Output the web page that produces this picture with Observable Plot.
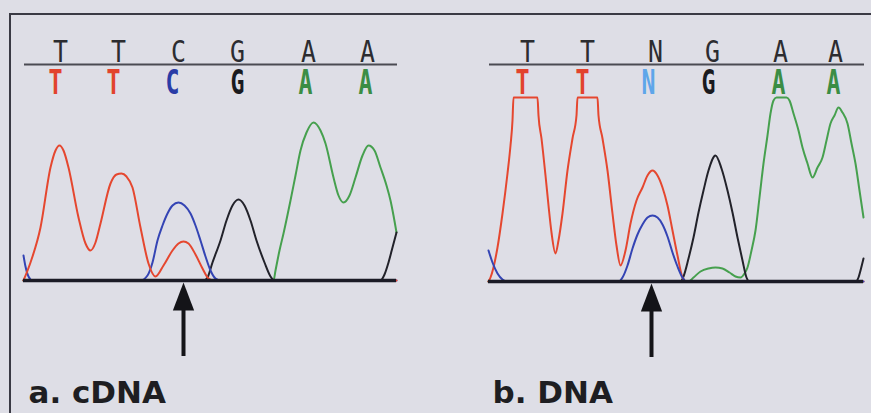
<!DOCTYPE html>
<html><head><meta charset="utf-8">
<script src="https://cdn.jsdelivr.net/npm/d3@7"></script>
<script src="https://cdn.jsdelivr.net/npm/@observablehq/plot@0.6"></script>
<style>
html,body{margin:0;padding:0;background:#dedee6;}
#wrap{position:relative;width:871px;height:413px;overflow:hidden;background:#dedee6;}
#frame{position:absolute;left:9px;top:13px;width:900px;height:450px;border-top:2px solid #3a3a44;border-left:2px solid #3a3a44;}
#wrap svg{position:absolute;left:0;top:0;}
</style></head><body><div id="wrap"><div id="frame"></div></div>
<script>
// ---------- data (scan position, signal) ----------
const panelLabels = ["a. cDNA", "b. DNA"];

const cdnaHeaderBases = ["T","T","C","G","A","A"];
const cdnaHeaderScan  = [37, 95, 155, 214, 285, 344];
const cdnaCalls       = ["T","T","C","G","A","A"];
const cdnaCallScan    = [32, 90, 149, 214, 282, 342];
const cdnaMutationScan = 160;

const dnaHeaderBases = ["T","T","N","G","A","A"];
const dnaHeaderScan  = [39, 99, 167, 224, 292, 347];
const dnaCalls       = ["T","T","N","G","A","A"];
const dnaCallScan    = [34, 94, 160, 220, 290, 345];
const dnaMutationScan = 163;

const cdnaTraceT = [[0,0],[7,18],[17,53],[27,113],[32,130],[36,135],[40,130],[45,113],[55,63],[62,37],[67,30],[72,38],[77,57],[87,97],[93,106],[98,107],[103,104],[109,93],[117,53],[125,17],[132,4],[140,15],[149,30],[155,37],[160,39],[165,37],[172,26],[179,12],[185,2],[190,0],[373,0]];
const cdnaTraceC = [[0,25],[2,14],[5,4],[9,0],[117,0],[124,5],[129,18],[134,40],[139,55],[144,67],[149,75],[155,78],[161,75],[167,67],[172,55],[177,40],[182,24],[187,10],[192,2],[197,0],[373,0]];
const cdnaTraceG = [[0,0],[180,0],[184,3],[189,18],[197,40],[203,60],[209,75],[215,81],[221,75],[227,60],[233,40],[241,18],[247,4],[251,0],[357,0],[361,6],[365,18],[369,33],[373,48]];
const cdnaTraceA = [[0,0],[250,0],[252,10],[256,30],[260,47],[267,80],[272,105],[277,130],[283,148],[290,158],[297,150],[302,137],[310,103],[315,85],[320,78],[326,85],[332,103],[339,125],[345,135],[351,130],[357,113],[363,95],[367,80],[370,65],[373,48]];

const dnaTraceT = [[0,0],[2,4],[9,34],[14,68],[19,108],[22,136],[24,161],[25,184],[49,184],[50,166],[53,143],[57,106],[60,76],[63,49],[67,28],[70,41],[74,68],[79,111],[84,143],[88,166],[89,184],[109,184],[110,166],[114,143],[119,111],[124,68],[128,36],[132,16],[137,31],[142,58],[148,81],[154,94],[159,106],[164,111],[169,106],[174,94],[179,76],[184,51],[189,26],[194,4],[198,0],[375,0]];
const dnaTraceC = [[0,31],[4,19],[9,8],[14,2],[18,0],[130,0],[134,4],[139,16],[144,33],[149,47],[154,57],[159,64],[164,66],[169,64],[174,57],[179,45],[184,29],[189,15],[194,4],[198,0],[375,0]];
const dnaTraceG = [[0,0],[192,0],[195,5],[200,23],[205,44],[210,69],[215,91],[220,111],[227,126],[233,113],[239,91],[244,69],[249,44],[254,21],[258,4],[261,0],[367,0],[370,4],[372,11],[375,23]];
const dnaTraceA = [[0,0],[200,0],[205,4],[212,10],[220,13],[227,14],[234,13],[241,9],[247,5],[252,4],[256,8],[259,14],[263,31],[267,51],[271,84],[275,118],[279,146],[282,168],[285,181],[288,184],[298,184],[301,181],[305,168],[310,151],[314,134],[319,118],[324,104],[329,114],[334,124],[338,141],[342,158],[346,166],[350,174],[354,169],[359,158],[363,138],[367,118],[371,91],[375,64]];

// ---------- styles ----------
const traceColor = {A: "#46a04e", C: "#3444b4", G: "#22222a", T: "#e5472f"};
const callColor  = {A: "#3b8d44", C: "#2a3ca6", G: "#1a1a1e", T: "#e2432d", N: "#5ea6ea"};

const panels = [
  {label: panelLabels[0], header: cdnaHeaderBases, headerScan: cdnaHeaderScan, calls: cdnaCalls, callScan: cdnaCallScan,
   mutation: cdnaMutationScan, traces: [["A", cdnaTraceA], ["G", cdnaTraceG], ["C", cdnaTraceC], ["T", cdnaTraceT]],
   layout: {marginLeft: 23, marginRight: 475, scanMax: 373, basePx: 280, labelDx: 5}},
  {label: panelLabels[1], header: dnaHeaderBases, headerScan: dnaHeaderScan, calls: dnaCalls, callScan: dnaCallScan,
   mutation: dnaMutationScan, traces: [["A", dnaTraceA], ["G", dnaTraceG], ["T", dnaTraceT], ["C", dnaTraceC]],
   layout: {marginLeft: 488, marginRight: 8, scanMax: 375, basePx: 281, labelDx: 4}}
];

const arrowHead = {
  draw(ctx, size) {
    const r = Math.sqrt(size / Math.PI);
    ctx.moveTo(0, 0);
    ctx.lineTo(-0.38 * r, r);
    ctx.lineTo(0.38 * r, r);
    ctx.closePath();
  }
};

const wrap = document.getElementById("wrap");
for (const p of panels) {
  const L = p.layout;
  const marks = [];
  for (const [base, pts] of p.traces) {
    marks.push(Plot.line(pts, {x: d => d[0], y: d => d[1], stroke: traceColor[base], strokeWidth: 2, curve: "monotone-x"}));
  }
  // baseline and header line
  marks.push(Plot.ruleY([0], {stroke: "#1b1b26", strokeWidth: 3.5}));
  marks.push(Plot.ruleY([0], {stroke: "#4a4a52", strokeWidth: 2, dy: 64 - L.basePx, dx: 1}));
  // header (reference) bases
  marks.push(Plot.text(p.header, {x: p.headerScan, text: d => d, frameAnchor: "top", dy: 61, lineAnchor: "bottom",
    fontFamily: "DejaVu Sans Mono", fontSize: 30, fill: "#2c2c30"}));
  // called bases, coloured
  marks.push(Plot.text(p.calls, {x: p.callScan, text: d => d, frameAnchor: "top", dy: 93, lineAnchor: "bottom",
    fontFamily: "DejaVu Sans Mono", fontWeight: "bold", fontSize: 34, fill: d => callColor[d]}));
  // mutation arrow
  marks.push(Plot.ruleX([p.mutation], {y1: -25, y2: -76, stroke: "#141418", strokeWidth: 4}));
  marks.push(Plot.dot([p.mutation], {x: d => d, y: -2, r: 28, symbol: arrowHead, fill: "#141418", stroke: "none"}));
  // panel label
  marks.push(Plot.text([p.label], {text: d => d, frameAnchor: "bottom-left", textAnchor: "start", lineAnchor: "bottom",
    dx: L.labelDx, dy: -11, fontFamily: "DejaVu Sans", fontWeight: "bold", fontSize: 31, fill: "#1e1e22"}));

  const svg = Plot.plot({
    width: 871, height: 413,
    marginLeft: L.marginLeft, marginRight: L.marginRight, marginTop: 0, marginBottom: 0,
    style: {background: "transparent", overflow: "visible"},
    x: {domain: [0, L.scanMax], axis: null},
    y: {domain: [0, 184], range: [L.basePx, L.basePx - 184], axis: null},
    color: {type: "identity"},
    marks
  });
  svg.querySelectorAll('g[font-family="DejaVu Sans Mono"] text').forEach(t => {
    t.setAttribute("textLength", t.parentNode.getAttribute("font-weight") === "bold" ? 14 : 15);
    t.setAttribute("lengthAdjust", "spacingAndGlyphs");
  });
  wrap.appendChild(svg);
}
</script>
</body></html>
